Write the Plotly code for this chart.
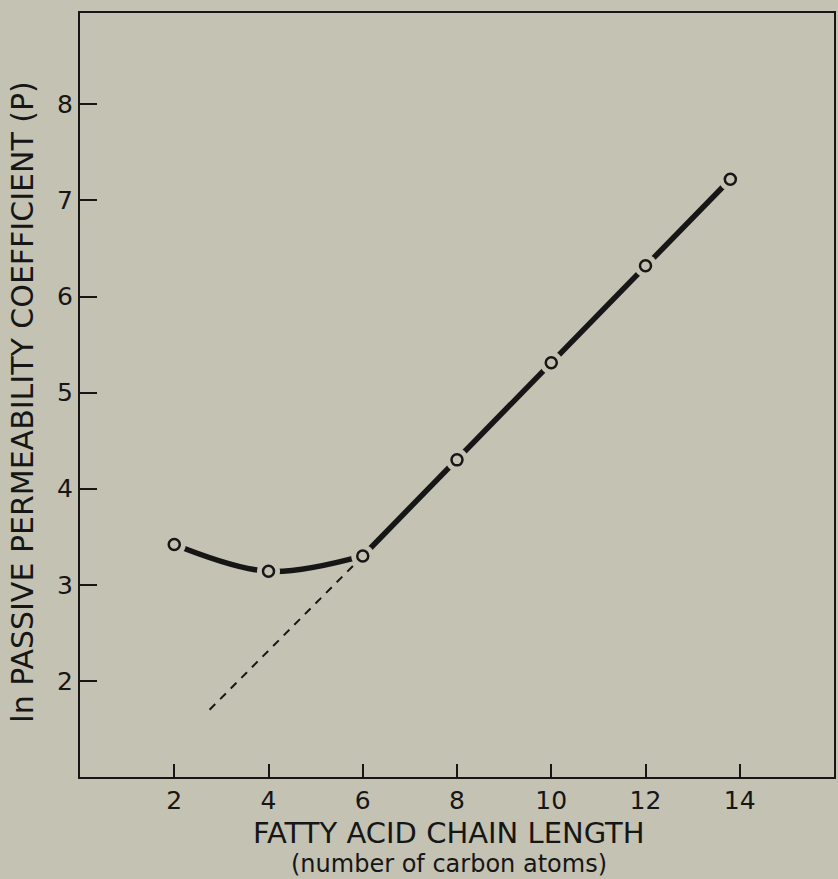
import plotly.graph_objects as go

# ---- data ----
chain_length = [2, 4, 6, 8, 10, 12, 13.8]
ln_perm = [3.42, 3.14, 3.30, 4.30, 5.31, 6.32, 7.22]
curve_idx = [0, 1, 2]          # curved part (2..6 carbons)
linear_idx = [2, 3, 4, 5, 6]   # linear part (6..14 carbons)
extrap_x = [2.75, 5.8]
extrap_y = [1.70, 3.20]
x_ticks = [2, 4, 6, 8, 10, 12, 14]
y_ticks = [2, 3, 4, 5, 6, 7, 8]

BG = "#c4c2b3"
INK = "#161616"
FONT = "DejaVu Sans"

fig = go.Figure()

fig.add_trace(go.Scatter(x=extrap_x, y=extrap_y, mode="lines",
                         line=dict(color=INK, width=2, dash="8px,7px"),
                         hoverinfo="skip", showlegend=False))
fig.add_trace(go.Scatter(x=[chain_length[i] for i in curve_idx],
                         y=[ln_perm[i] for i in curve_idx], mode="lines",
                         line=dict(color=INK, width=5.5, shape="spline", smoothing=1.0),
                         showlegend=False))
fig.add_trace(go.Scatter(x=[chain_length[i] for i in linear_idx],
                         y=[ln_perm[i] for i in linear_idx], mode="lines",
                         line=dict(color=INK, width=5.5),
                         showlegend=False))
# gap around markers
fig.add_trace(go.Scatter(x=chain_length, y=ln_perm, mode="markers",
                         marker=dict(size=23, color=BG, line=dict(width=0)),
                         hoverinfo="skip", showlegend=False))
fig.add_trace(go.Scatter(x=chain_length, y=ln_perm, mode="markers",
                         marker=dict(size=11, color=BG, line=dict(width=2.5, color=INK)),
                         showlegend=False))

fig.add_annotation(text="FATTY ACID CHAIN LENGTH", xref="paper", yref="paper",
                   x=0.49, y=0, yshift=-56, xanchor="center", yanchor="middle",
                   showarrow=False, font=dict(family=FONT, size=29, color=INK))
fig.add_annotation(text="(number of carbon atoms)", xref="paper", yref="paper",
                   x=0.49, y=0, yshift=-87, xanchor="center", yanchor="middle",
                   showarrow=False, font=dict(family=FONT, size=24, color=INK))
fig.add_annotation(text="ln PASSIVE PERMEABILITY COEFFICIENT (P)", xref="paper", yref="paper",
                   x=0, xshift=-57, y=0.49, xanchor="center", yanchor="middle", textangle=-90,
                   showarrow=False, font=dict(family=FONT, size=30, color=INK))

axis_common = dict(showline=True, linecolor=INK, linewidth=2, mirror=True,
                   ticks="inside", tickcolor=INK, tickwidth=2,
                   showgrid=False, zeroline=False,
                   tickfont=dict(family=FONT, size=25, color=INK))

fig.update_xaxes(range=[0, 16], tickvals=x_ticks, ticklen=13, ticklabelstandoff=0, **axis_common)
fig.update_yaxes(range=[1, 8.95], tickvals=y_ticks, ticklen=17, ticklabelstandoff=0, **axis_common)

fig.update_layout(width=838, height=879, margin=dict(l=80, r=2, t=13, b=102),
                  paper_bgcolor=BG, plot_bgcolor=BG)

fig.write_html("out.html")
